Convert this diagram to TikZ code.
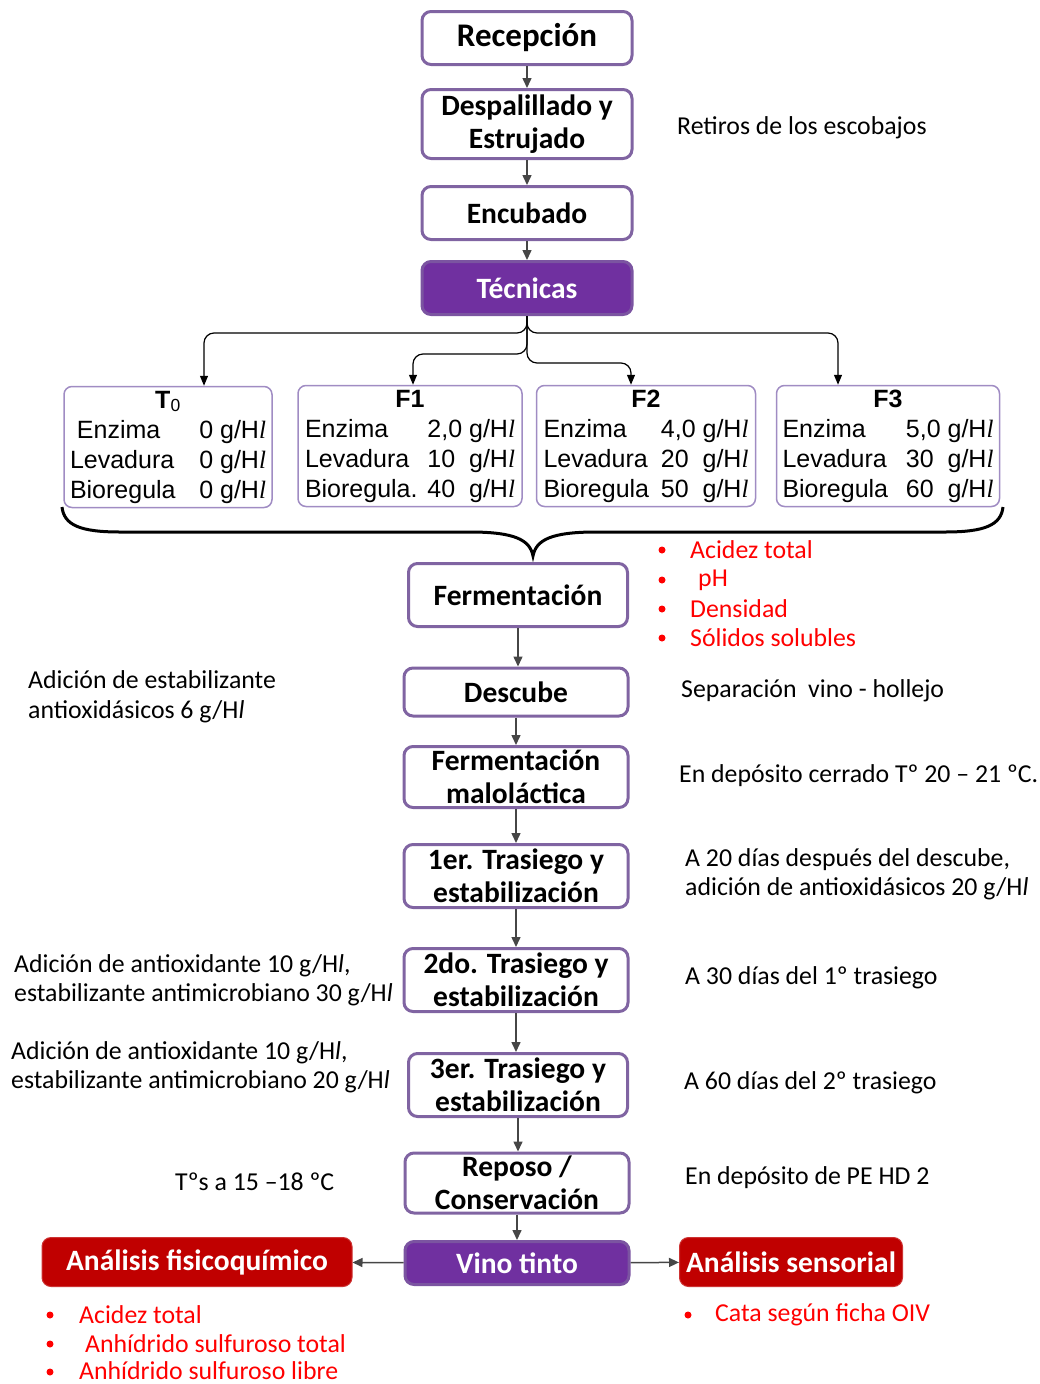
\documentclass[tikz,border=0pt]{standalone}
\usepackage{fontspec}
\setmainfont{Carlito}
\newfontfamily\arial{Liberation Sans}
\newfontfamily\romana{Liberation Serif}
\usetikzlibrary{arrows.meta}
\definecolor{borde}{RGB}{128,100,162}
\definecolor{bordetabla}{RGB}{160,140,195}
\definecolor{morado}{RGB}{112,48,160}
\definecolor{rojo}{RGB}{192,0,0}
\definecolor{rojotexto}{RGB}{255,0,0}
\definecolor{flechagris}{RGB}{70,70,70}
\newcommand{\Hl}{H{\romana\itshape l}}
\newcommand{\Hlc}{H\textit{l}}
\tikzset{
  paso/.style={draw=borde, line width=3pt, rounded corners=9pt, fill=white,
    minimum width=224pt, minimum height=53pt, inner sep=0pt, align=center,
    font=\bfseries\fontsize{29.5}{33}\selectfont},
  tecnica/.style={paso, fill=morado, draw=borde!70!morado, text=white},
  analisis/.style={paso, line width=1pt, fill=rojo, draw=rojo!80, text=white},
  tabla/.style={draw=bordetabla, line width=1.5pt, rounded corners=8pt,
    minimum height=121pt, inner sep=0pt, font=\arial\fontsize{25}{30}\selectfont},
  flecha/.style={draw=flechagris, line width=1.5pt, -{Triangle[length=10pt,width=9pt]}},
  rama/.style={draw=black, line width=1.2pt, rounded corners=10pt, -{Triangle[length=10pt,width=8pt]}},
  nota/.style={anchor=west, align=left, inner sep=0pt, font=\fontsize{25.8}{29.5}\selectfont},
  rojolista/.style={anchor=west, inner sep=0pt, text=rojotexto, font=\fontsize{25.8}{29}\selectfont},
}
\begin{document}
\begin{tikzpicture}[x=1pt, y=-1pt]
\useasboundingbox (0,0) rectangle (1040,1384);
% Pasos iniciales {{{
\node[paso, minimum width=210pt, font=\bfseries\fontsize{33}{36}\selectfont] (recepcion) at (527,38) {Recepción};
\node[paso, minimum width=210pt, minimum height=69pt] (despalillado) at (527,124) {Despalillado y\\Estrujado};
\node[paso, minimum width=210pt] (encubado) at (527,213) {Encubado};
\node[tecnica, minimum width=210pt] (tecnicas) at (527,288) {Técnicas};
\draw[flecha] (recepcion) -- (despalillado);
\draw[flecha] (despalillado) -- (encubado);
\draw[flecha] (encubado) -- (tecnicas);
\node[nota] (escobajos) at (677,128) {Retiros de los escobajos};
% }}}
% Tratamientos {{{
\node[tabla, minimum width=208pt] (t0) at (168,447) {\begin{tabular*}{196pt}{@{}l@{\extracolsep{\fill}}r@{}}
\multicolumn{2}{c}{\textbf{T}\textsubscript{0}}\\
\ Enzima & 0 g/\Hl\\
Levadura & 0 g/\Hl\\
Bioregula & 0 g/\Hl
\end{tabular*}};
\node[tabla, minimum width=224pt] (f1) at (410,446) {\begin{tabular*}{210pt}{@{}l@{\extracolsep{\fill}}r@{}}
\multicolumn{2}{c}{\textbf{F1}}\\
Enzima & 2,0 g/\Hl\\
Levadura & 10\ \ g/\Hl\\
Bioregula. & 40\ \ g/\Hl
\end{tabular*}};
\node[tabla, minimum width=219pt] (f2) at (646,446) {\begin{tabular*}{205pt}{@{}l@{\extracolsep{\fill}}r@{}}
\multicolumn{2}{c}{\textbf{F2}}\\
Enzima & 4,0 g/\Hl\\
Levadura & 20\ \ g/\Hl\\
Bioregula & 50\ \ g/\Hl
\end{tabular*}};
\node[tabla, minimum width=223pt] (f3) at (888,446) {\begin{tabular*}{211pt}{@{}l@{\extracolsep{\fill}}r@{}}
\multicolumn{2}{c}{\textbf{F3}}\\
Enzima & 5,0 g/\Hl\\
Levadura & 30\ \ g/\Hl\\
Bioregula & 60\ \ g/\Hl
\end{tabular*}};
\draw[rama] (tecnicas.south) -- ++(0,17) -| ([xshift=36pt]t0.north);
\draw[rama] (tecnicas.south) -- ++(0,17) -| ([xshift=-50pt]f3.north);
\draw[rama] (tecnicas.south) -- ++(0,38) -| ([xshift=3pt]f1.north);
\draw[rama] (tecnicas.south) -- ++(0,47) -| ([xshift=-15pt]f2.north);
% llave
\draw[line width=3pt] (62,507) .. controls (64,525) and (80,532) .. (120,532) -- (470,532)
  .. controls (515,532) and (530,540) .. (533,556)
  .. controls (536,540) and (551,532) .. (596,532) -- (945,532)
  .. controls (985,532) and (1001,525) .. (1003,507);
% }}}
% Fermentacion y trasiegos {{{
\node[paso, minimum width=219pt, minimum height=63pt] (fermentacion) at (518,595) {Fermentación};
\node[paso, minimum height=48pt] (descube) at (516,692) {Descube};
\node[paso, minimum height=61pt] (malolactica) at (516,777) {Fermentación\\maloláctica};
\node[paso, minimum height=63pt] (trasiego1) at (516,876) {1er. Trasiego y\\estabilización};
\node[paso, minimum height=63pt] (trasiego2) at (516,980) {2do. Trasiego y\\estabilización};
\node[paso, minimum width=219pt, minimum height=63pt] (trasiego3) at (518,1085) {3er. Trasiego y\\estabilización};
\node[paso, minimum height=60pt] (reposo) at (517,1183) {Reposo /\\Conservación};
\node[tecnica, minimum height=43pt] (vino) at (517,1263) {Vino tinto};
\draw[flecha] (fermentacion.south) -- (fermentacion.south |- descube.north);
\draw[flecha] (descube) -- (malolactica);
\draw[flecha] (malolactica) -- (trasiego1);
\draw[flecha] (trasiego1) -- (trasiego2);
\draw[flecha] (trasiego2.south) -- (trasiego2.south |- trasiego3.north);
\draw[flecha] (trasiego3.south) -- (trasiego3.south |- reposo.north);
\draw[flecha] (reposo) -- (vino);
% }}}
% Parametros {{{
\fill[rojotexto] (662,550) circle (3.5pt); \node[rojolista] (acidez) at (690,550) {Acidez total};
\fill[rojotexto] (662,580) circle (3.5pt); \node[rojolista] (ph) at (698,580) {pH};
\fill[rojotexto] (662,609) circle (3.5pt); \node[rojolista] (densidad) at (690,609) {Densidad};
\fill[rojotexto] (662,638) circle (3.5pt); \node[rojolista] (solidos) at (690,638) {Sólidos solubles};
% }}}
% Notas {{{
\node[nota] (estabilizante) at (28,697) {Adición de estabilizante\\antioxidásicos 6 g/\Hlc};
\node[nota] (separacion) at (681,691) {Separación\ \ vino - hollejo};
\node[nota] (deposito) at (679,776) {En depósito cerrado Tº 20 -- 21 ºC.};
\node[nota] (dias20) at (685,874) {A 20 días después del descube,\\adición de antioxidásicos 20 g/\Hlc};
\node[nota] (adicion1) at (14,980) {Adición de antioxidante 10 g/\Hlc,\\estabilizante antimicrobiano 30 g/\Hlc};
\node[nota] (dias30) at (685,978) {A 30 días del 1º trasiego};
\node[nota] (adicion2) at (11,1067) {Adición de antioxidante 10 g/\Hlc,\\estabilizante antimicrobiano 20 g/\Hlc};
\node[nota] (dias60) at (684,1083) {A 60 días del 2º trasiego};
\node[nota] (temp) at (175,1182) {Tºs a 15 --18 ºC};
\node[nota] (pehd) at (685,1178) {En depósito de PE HD 2};
% }}}
% Analisis {{{
\node[analisis, minimum width=310pt, minimum height=49pt] (fisico) at (197,1262) {Análisis fisicoquímico};
\node[analisis, minimum width=223pt, minimum height=49pt] (sensorial) at (791,1262) {Análisis sensorial};
\draw[flecha] (vino) -- (fisico);
\draw[flecha] (vino) -- (sensorial);
\fill[rojotexto] (50,1315) circle (3.5pt); \node[rojolista] (acidez2) at (79,1315) {Acidez total};
\fill[rojotexto] (50,1344) circle (3.5pt); \node[rojolista] (total) at (85,1344) {Anhídrido sulfuroso total};
\fill[rojotexto] (50,1372) circle (3.5pt); \node[rojolista] (libre) at (79,1371) {Anhídrido sulfuroso libre};
\fill[rojotexto] (688,1315) circle (3.5pt); \node[rojolista] (cata) at (715,1315) {Cata según ficha OIV};
% }}}
\end{tikzpicture}
\end{document}
